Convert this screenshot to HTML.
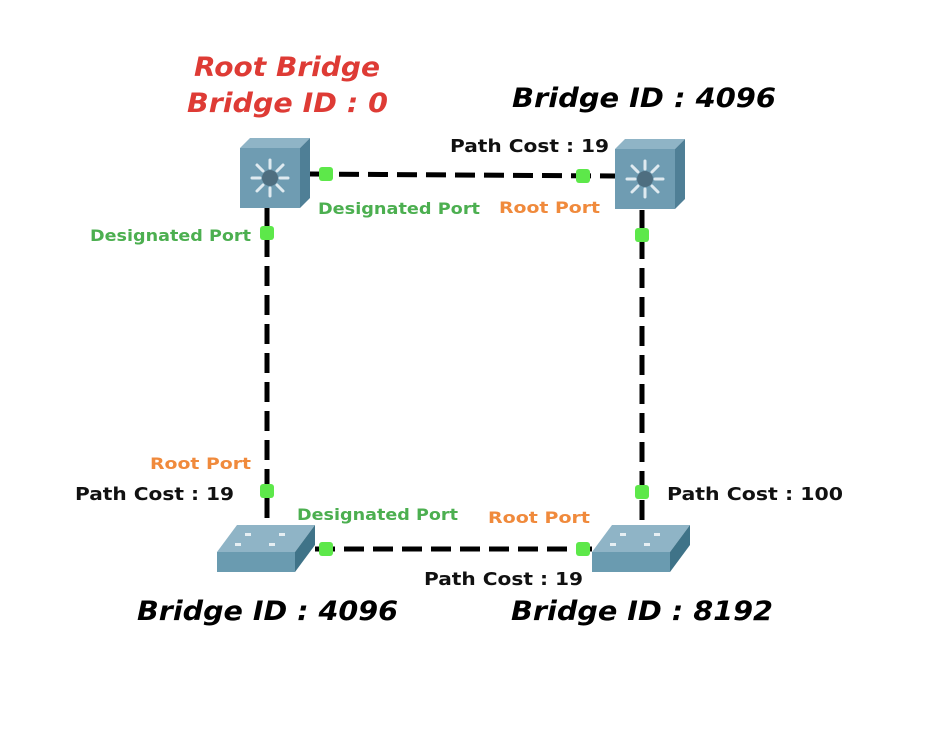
<!DOCTYPE html>
<html><head><meta charset="utf-8"><style>
html,body{margin:0;padding:0;background:#fff;}
svg{display:block;}
.big{font-family:"DejaVu Sans","Liberation Sans",sans-serif;font-weight:bold;font-style:italic;font-size:27px;}
.sm{font-family:"DejaVu Sans","Liberation Sans",sans-serif;font-weight:bold;font-size:16px;}
.pc{font-family:"DejaVu Sans","Liberation Sans",sans-serif;font-weight:bold;font-size:18px;fill:#111;}
</style></head><body>
<svg width="938" height="742" viewBox="0 0 938 742" xmlns="http://www.w3.org/2000/svg">
<defs>
<g id="ms">
  <polygon points="0,10 10,0 70,0 60,10" fill="#8fb4c6"/>
  <polygon points="60,10 70,0 70,60 60,70" fill="#4f7f96"/>
  <rect x="0" y="10" width="60" height="60" fill="#6f9cb2"/>
  <g stroke="#dfeaf0" stroke-width="3" stroke-linecap="round">
    <line x1="30" y1="22" x2="30" y2="30"/><line x1="30" y1="50" x2="30" y2="58"/>
    <line x1="12" y1="40" x2="20" y2="40"/><line x1="40" y1="40" x2="48" y2="40"/>
    <line x1="17" y1="27" x2="23" y2="33"/><line x1="37" y1="47" x2="43" y2="53"/>
    <line x1="43" y1="27" x2="37" y2="33"/><line x1="23" y1="47" x2="17" y2="53"/>
  </g>
  <circle cx="30" cy="40" r="8" fill="#4e6e80"/>
</g>
<g id="sw">
  <polygon points="0,27 20,0 98,0 78,27" fill="#8fb4c6"/>
  <polygon points="78,27 98,0 98,20 78,47" fill="#3f7388"/>
  <rect x="0" y="27" width="78" height="20" fill="#6a9bb0"/>
  <g fill="#e6eff3"><rect x="28" y="8" width="6" height="3"/><rect x="62" y="8" width="6" height="3"/><rect x="18" y="18" width="6" height="3"/><rect x="52" y="18" width="6" height="3"/></g>
</g>
</defs>
<g stroke="#000" stroke-width="5" fill="none" stroke-dasharray="20,9">
  <line x1="310" y1="174" x2="615" y2="176"/>
  <line x1="267" y1="208" x2="267" y2="525"/>
  <line x1="642" y1="210" x2="642" y2="525"/>
  <line x1="315" y1="549" x2="592" y2="549"/>
</g>
<use href="#ms" x="240" y="138"/>
<use href="#ms" x="615" y="139"/>
<use href="#sw" x="217" y="525"/>
<use href="#sw" x="592" y="525"/>
<g fill="#5de84a">
  <rect x="319" y="167" width="14" height="14" rx="3"/>
  <rect x="576" y="169" width="14" height="14" rx="3"/>
  <rect x="260" y="226" width="14" height="14" rx="3"/>
  <rect x="260" y="484" width="14" height="14" rx="3"/>
  <rect x="635" y="228" width="14" height="14" rx="3"/>
  <rect x="635" y="485" width="14" height="14" rx="3"/>
  <rect x="319" y="542" width="14" height="14" rx="3"/>
  <rect x="576" y="542" width="14" height="14" rx="3"/>
</g>
<text class="big" x="194" y="76" fill="#de3b35" textLength="186" lengthAdjust="spacingAndGlyphs">Root Bridge</text>
<text class="big" x="187" y="112" fill="#de3b35" textLength="201" lengthAdjust="spacingAndGlyphs">Bridge ID : 0</text>
<text class="big" x="512" y="107" fill="#000" textLength="264" lengthAdjust="spacingAndGlyphs">Bridge ID : 4096</text>
<text class="big" x="137" y="620" fill="#000" textLength="261" lengthAdjust="spacingAndGlyphs">Bridge ID : 4096</text>
<text class="big" x="511" y="620" fill="#000" textLength="262" lengthAdjust="spacingAndGlyphs">Bridge ID : 8192</text>
<text class="pc" x="450" y="152" textLength="159" lengthAdjust="spacingAndGlyphs">Path Cost : 19</text>
<text class="pc" x="75" y="500" textLength="159" lengthAdjust="spacingAndGlyphs">Path Cost : 19</text>
<text class="pc" x="424" y="585" textLength="159" lengthAdjust="spacingAndGlyphs">Path Cost : 19</text>
<text class="pc" x="667" y="500" textLength="176" lengthAdjust="spacingAndGlyphs">Path Cost : 100</text>
<text class="sm" x="318" y="214" fill="#4caf50" textLength="162" lengthAdjust="spacingAndGlyphs">Designated Port</text>
<text class="sm" x="90" y="241" fill="#4caf50" textLength="161" lengthAdjust="spacingAndGlyphs">Designated Port</text>
<text class="sm" x="297" y="520" fill="#4caf50" textLength="161" lengthAdjust="spacingAndGlyphs">Designated Port</text>
<text class="sm" x="499" y="213" fill="#f08a3c" textLength="101" lengthAdjust="spacingAndGlyphs">Root Port</text>
<text class="sm" x="150" y="469" fill="#f08a3c" textLength="101" lengthAdjust="spacingAndGlyphs">Root Port</text>
<text class="sm" x="488" y="523" fill="#f08a3c" textLength="102" lengthAdjust="spacingAndGlyphs">Root Port</text>
</svg>
</body></html>
